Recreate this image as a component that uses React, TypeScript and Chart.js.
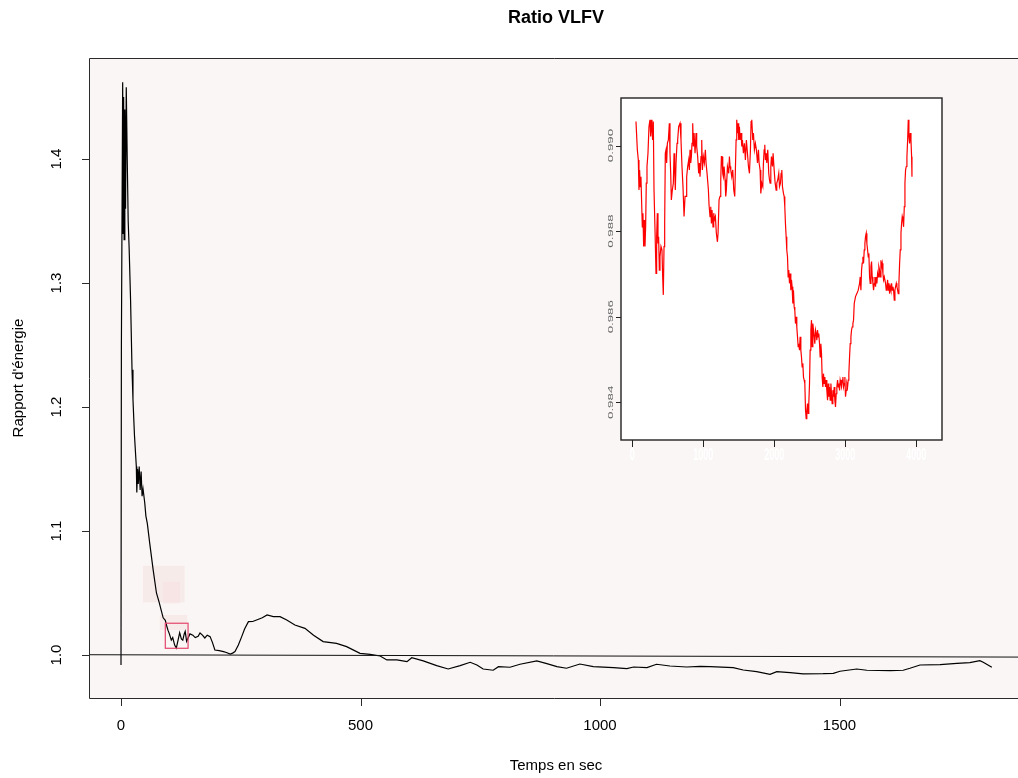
import React, { useEffect, useRef } from 'react';
import { Chart, registerables } from 'chart.js';

Chart.register(...registerables);

const FONT = '"Liberation Sans", Arial, Helvetica, sans-serif';

// ---- main series: time (s) and energy ratio ----
const timeSec = [
  0, 0.8, 3.5, 4.5, 5.5, 6.5, 8, 9.5, 11, 13,
  15, 17, 20, 23, 25, 28, 32, 33, 34.5, 36,
  38, 40, 42, 44, 46, 49.5, 52, 55, 60, 67,
  74, 80, 84, 88, 92.5, 95, 98, 101, 105, 108,
  112, 115.5, 118, 122.5, 126, 129, 132, 134, 137, 140,
  144, 150, 155, 161, 165, 170, 175, 180, 186, 191,
  196, 205, 214, 220, 228, 233, 238, 245, 252, 258,
  266, 275, 283, 295, 305, 318, 332, 346, 363, 384,
  402, 422, 450, 471, 499, 520, 541, 555, 576, 597,
  607, 631, 659, 683, 708, 729, 743, 756, 777, 788,
  812, 833, 868, 889, 910, 930, 958, 986, 1028, 1056,
  1070, 1098, 1118, 1146, 1181, 1209, 1230, 1278, 1299, 1327,
  1355, 1369, 1397, 1424, 1466, 1487, 1501, 1536, 1557, 1606,
  1633, 1647, 1668, 1710, 1745, 1772, 1793, 1800, 1818,
];
const ratio = [
  0.992, 1.248, 1.462, 1.34, 1.45, 1.335, 1.44, 1.36, 1.458, 1.40,
  1.35, 1.328, 1.286, 1.230, 1.206, 1.178, 1.152, 1.131, 1.150, 1.138,
  1.152, 1.133, 1.148, 1.128, 1.134, 1.123, 1.112, 1.106, 1.090, 1.069,
  1.050, 1.042, 1.036, 1.030, 1.028, 1.024, 1.020, 1.017, 1.012, 1.014,
  1.008, 1.0056, 1.010, 1.018, 1.013, 1.012, 1.017, 1.019, 1.011, 1.0137,
  1.017, 1.016, 1.014, 1.015, 1.0177, 1.016, 1.0137, 1.016, 1.0148, 1.010,
  1.004, 1.0035, 1.0027, 1.002, 1.0008, 1.0015, 1.0027, 1.008, 1.0148, 1.021,
  1.0269, 1.027, 1.0282, 1.030, 1.0323, 1.031, 1.0309, 1.0282, 1.0242, 1.0215,
  1.016, 1.0108, 1.0094, 1.0067, 1.0013, 1.0005, 0.9992, 0.9960, 0.9960, 0.9946,
  0.9978, 0.9952, 0.9914, 0.9887, 0.9914, 0.9941, 0.9919, 0.9887, 0.9877, 0.9906,
  0.9901, 0.9925, 0.9952, 0.9930, 0.9906, 0.9893, 0.9927, 0.9906, 0.9898, 0.9890,
  0.9903, 0.9898, 0.9925, 0.9911, 0.9903, 0.9908, 0.9906, 0.9898, 0.9879, 0.9865,
  0.9844, 0.9865, 0.9857, 0.9847, 0.9849, 0.9852, 0.9869, 0.9887, 0.9877, 0.9873,
  0.9877, 0.9893, 0.9919, 0.9922, 0.9933, 0.9938, 0.9954, 0.9941, 0.9901,
];

// reference line near 1
const refLineX = [-66.8, 1872.6];
const refLineY = [1.0002, 0.9983];

const xTicks = [0, 500, 1000, 1500];
const xTickLabels = ['0', '500', '1000', '1500'];
const yTicks = [1.0, 1.1, 1.2, 1.3, 1.4];
const yTickLabels = ['1.0', '1.1', '1.2', '1.3', '1.4'];

// highlighted regions [x0, x1, y0, y1]
const shadeBoxes = [
  [45.9, 133, 1.0425, 1.072],
  [87.7, 122.5, 1.0415, 1.059],
  [81, 138, 1.0202, 1.0323],
];
const focusBox = [92.5, 140, 1.0054, 1.0256];

// ---- inset series ----
const insetX = [
  52, 71, 85, 94, 103, 113, 122, 132, 141, 150,
  160, 169, 179, 188, 197, 207, 221, 235, 249, 259,
  268, 277, 287, 296, 306, 320, 334, 343, 353, 362,
  371, 381, 390, 404, 418, 428, 437, 447, 456, 465,
  475, 484, 494, 508, 522, 531, 541, 550, 564, 578,
  588, 597, 606, 616, 630, 639, 653, 672, 686, 700,
  714, 729, 743, 757, 766, 780, 794, 804, 813, 823,
  832, 841, 851, 860, 870, 884, 898, 907, 921, 935,
  945, 954, 968, 978, 987, 1001, 1015, 1029, 1039, 1053,
  1072, 1081, 1095, 1105, 1114, 1123, 1137, 1147, 1156, 1170,
  1184, 1199, 1208, 1222, 1236, 1246, 1255, 1264, 1274, 1283,
  1293, 1307, 1316, 1325, 1340, 1349, 1358, 1368, 1377, 1387,
  1401, 1415, 1429, 1443, 1452, 1462, 1471, 1481, 1490, 1499,
  1509, 1518, 1532, 1542, 1551, 1565, 1579, 1593, 1607, 1622,
  1636, 1650, 1664, 1673, 1683, 1697, 1706, 1720, 1734, 1748,
  1763, 1777, 1786, 1800, 1810, 1824, 1838, 1847, 1857, 1866,
  1875, 1885, 1894, 1908, 1922, 1932, 1941, 1951, 1960, 1974,
  1983, 1998, 2012, 2026, 2035, 2049, 2063, 2073, 2087, 2096,
  2106, 2115, 2129, 2139, 2148, 2157, 2167, 2176, 2186, 2195,
  2204, 2214, 2223, 2233, 2242, 2251, 2261, 2270, 2280, 2289,
  2298, 2308, 2317, 2327, 2336, 2345, 2355, 2364, 2374, 2383,
  2392, 2402, 2411, 2421, 2430, 2440, 2449, 2458, 2468, 2477,
  2486, 2496, 2505, 2515, 2524, 2533, 2543, 2552, 2562, 2571,
  2580, 2590, 2599, 2609, 2618, 2627, 2637, 2646, 2656, 2665,
  2674, 2684, 2693, 2703, 2712, 2721, 2731, 2740, 2750, 2759,
  2768, 2778, 2787, 2797, 2806, 2815, 2825, 2834, 2844, 2853,
  2862, 2872, 2881, 2891, 2900, 2909, 2919, 2928, 2938, 2947,
  2956, 2966, 2975, 2985, 2994, 3003, 3013, 3022, 3032, 3041,
  3050, 3060, 3069, 3079, 3088, 3097, 3107, 3116, 3126, 3144,
  3163, 3182, 3201, 3210, 3220, 3229, 3238, 3248, 3257, 3267,
  3276, 3285, 3295, 3304, 3314, 3323, 3332, 3342, 3351, 3361,
  3370, 3379, 3389, 3398, 3408, 3417, 3426, 3436, 3445, 3455,
  3464, 3473, 3483, 3492, 3502, 3511, 3520, 3530, 3539, 3549,
  3567, 3577, 3586, 3596, 3605, 3614, 3624, 3633, 3643, 3652,
  3661, 3671, 3680, 3690, 3699, 3708, 3718, 3727, 3737, 3746,
  3755, 3765, 3774, 3784, 3793, 3802, 3812, 3821, 3831, 3840,
  3849, 3859, 3868, 3878, 3887, 3896, 3906, 3915, 3925, 3934,
  3939,
];
const insetY = [
  0.99056, 0.98990, 0.98966, 0.98896, 0.98943, 0.98904, 0.98927, 0.98865, 0.98810, 0.98842,
  0.98764, 0.98826, 0.98764, 0.98810, 0.98912, 0.98951, 0.98982, 0.99044, 0.99060, 0.99021,
  0.99060, 0.99037, 0.99013, 0.99056, 0.98896, 0.98803, 0.98701, 0.98787, 0.98842, 0.98771,
  0.98787, 0.98709, 0.98740, 0.98764, 0.98756, 0.98693, 0.98651, 0.98764, 0.98818, 0.98982,
  0.98990, 0.98959, 0.99005, 0.99013, 0.99052, 0.98982, 0.98935, 0.98873, 0.98896, 0.98912,
  0.98982, 0.98943, 0.98896, 0.98959, 0.99005, 0.99013, 0.99044, 0.99052, 0.99013, 0.98951,
  0.98904, 0.98834, 0.98881, 0.98881, 0.98927, 0.98951, 0.98966, 0.98943, 0.98990, 0.98959,
  0.98974, 0.99005, 0.99052, 0.98998, 0.99029, 0.98982, 0.99029, 0.98998, 0.98974, 0.98935,
  0.98959, 0.98927, 0.98974, 0.99013, 0.98943, 0.98974, 0.98959, 0.98990, 0.98959, 0.98935,
  0.98896, 0.98861, 0.98834, 0.98857, 0.98818, 0.98849, 0.98810, 0.98842, 0.98826, 0.98834,
  0.98795, 0.98775, 0.98795, 0.98873, 0.98881, 0.98920, 0.98974, 0.98974, 0.98935, 0.98927,
  0.98951, 0.98920, 0.98881, 0.98896, 0.98951, 0.98943, 0.98935, 0.98974, 0.98951, 0.98943,
  0.98927, 0.98943, 0.98896, 0.98881, 0.98943, 0.99013, 0.99060, 0.99029, 0.99052, 0.99013,
  0.99044, 0.99013, 0.99029, 0.98998, 0.99013, 0.98982, 0.99005, 0.98966, 0.99013, 0.98982,
  0.98951, 0.98935, 0.98990, 0.99056, 0.99060, 0.99013, 0.99029, 0.98990, 0.99005, 0.98990,
  0.98959, 0.98990, 0.98959, 0.98943, 0.98888, 0.98912, 0.98904, 0.98959, 0.98990, 0.99002,
  0.98966, 0.98982, 0.98959, 0.98990, 0.98935, 0.98920, 0.98912, 0.98951, 0.98974, 0.98951,
  0.98982, 0.98943, 0.98912, 0.98896, 0.98912, 0.98920, 0.98935, 0.98904, 0.98912, 0.98935,
  0.98943, 0.98904, 0.98888, 0.98881, 0.98857, 0.98818, 0.98787, 0.98756, 0.98740, 0.98693,
  0.98709, 0.98678, 0.98701, 0.98662, 0.98686, 0.98670, 0.98631, 0.98662, 0.98623, 0.98615,
  0.98584, 0.98600, 0.98576, 0.98553, 0.98530, 0.98537, 0.98522, 0.98553, 0.98522, 0.98506,
  0.98483, 0.98491, 0.98459, 0.98452, 0.98444, 0.98381, 0.98362, 0.98381, 0.98397, 0.98374,
  0.98397, 0.98444, 0.98522, 0.98569, 0.98592, 0.98530, 0.98584, 0.98569, 0.98553, 0.98537,
  0.98569, 0.98561, 0.98545, 0.98569, 0.98553, 0.98561, 0.98537, 0.98506, 0.98537, 0.98514,
  0.98459, 0.98436, 0.98467, 0.98444, 0.98459, 0.98436, 0.98452, 0.98428, 0.98405, 0.98444,
  0.98413, 0.98436, 0.98405, 0.98444, 0.98420, 0.98397, 0.98428, 0.98413, 0.98436, 0.98405,
  0.98389, 0.98420, 0.98436, 0.98452, 0.98436, 0.98444, 0.98428, 0.98452, 0.98444, 0.98436,
  0.98452, 0.98459, 0.98436, 0.98444, 0.98459, 0.98413, 0.98428, 0.98444, 0.98436, 0.98452,
  0.98467, 0.98506, 0.98537, 0.98553, 0.98569, 0.98576, 0.98584, 0.98592, 0.98631, 0.98647,
  0.98654, 0.98662, 0.98678, 0.98693, 0.98662, 0.98709, 0.98725, 0.98740, 0.98725, 0.98756,
  0.98771, 0.98787, 0.98795, 0.98771, 0.98756, 0.98740, 0.98748, 0.98693, 0.98678, 0.98717,
  0.98729, 0.98693, 0.98678, 0.98662, 0.98678, 0.98693, 0.98670, 0.98693, 0.98678, 0.98701,
  0.98693, 0.98717, 0.98709, 0.98693, 0.98732, 0.98717, 0.98725, 0.98701, 0.98686, 0.98693,
  0.98678, 0.98662, 0.98670, 0.98686, 0.98662, 0.98678, 0.98654, 0.98670, 0.98662, 0.98678,
  0.98662, 0.98670, 0.98662, 0.98639, 0.98662, 0.98670, 0.98678, 0.98670, 0.98662, 0.98654,
  0.98678, 0.98725, 0.98756, 0.98795, 0.98818, 0.98834, 0.98826, 0.98810, 0.98857, 0.98912,
  0.98943, 0.98951, 0.98974, 0.99013, 0.99060, 0.99021, 0.99005, 0.99029, 0.99013, 0.98974,
  0.98927,
];
const insetXTicks = [0, 1000, 2000, 3000, 4000];
const insetYTicks = [0.984, 0.986, 0.988, 0.99];
const insetYTickLabels = ['0.984', '0.986', '0.988', '0.990'];

const mainDecor = {
  id: 'mainDecor',
  beforeDraw(chart: any) {
    const { ctx, chartArea: a } = chart;
    const xs = chart.scales.x;
    const ys = chart.scales.y;
    ctx.save();
    ctx.fillStyle = '#ffffff';
    ctx.fillRect(0, 0, chart.width, chart.height);
    ctx.fillStyle = '#FAF6F5';
    ctx.fillRect(a.left, a.top, a.right - a.left, a.bottom - a.top);
    ctx.fillStyle = 'rgba(244, 222, 222, 0.45)';
    shadeBoxes.forEach((b) => {
      const x0 = xs.getPixelForValue(b[0]);
      const x1 = xs.getPixelForValue(b[1]);
      const y0 = ys.getPixelForValue(b[2]);
      const y1 = ys.getPixelForValue(b[3]);
      ctx.fillRect(x0, y1, x1 - x0, y0 - y1);
    });
    ctx.restore();
  },
  afterDraw(chart: any) {
    const { ctx, chartArea: a } = chart;
    const xs = chart.scales.x;
    const ys = chart.scales.y;
    ctx.save();
    // focus box
    ctx.strokeStyle = '#E3456C';
    ctx.lineWidth = 1.2;
    const fx0 = xs.getPixelForValue(focusBox[0]);
    const fx1 = xs.getPixelForValue(focusBox[1]);
    const fy0 = ys.getPixelForValue(focusBox[2]);
    const fy1 = ys.getPixelForValue(focusBox[3]);
    ctx.strokeRect(fx0, fy1, fx1 - fx0, fy0 - fy1);

    // frame (left, top, bottom)
    ctx.strokeStyle = '#2a2a2a';
    ctx.lineWidth = 1;
    ctx.beginPath();
    ctx.moveTo(chart.width + 5, a.top + 0.5);
    ctx.lineTo(a.left + 0.5, a.top + 0.5);
    ctx.lineTo(a.left + 0.5, a.bottom + 0.5);
    ctx.lineTo(chart.width + 5, a.bottom + 0.5);
    ctx.stroke();

    // ticks
    ctx.beginPath();
    xTicks.forEach((v) => {
      const px = Math.round(xs.getPixelForValue(v)) + 0.5;
      ctx.moveTo(px, a.bottom);
      ctx.lineTo(px, a.bottom + 8);
    });
    yTicks.forEach((v) => {
      const py = Math.round(ys.getPixelForValue(v)) + 0.5;
      ctx.moveTo(a.left, py);
      ctx.lineTo(a.left - 7, py);
    });
    ctx.stroke();

    ctx.fillStyle = '#000';
    ctx.font = `15px ${FONT}`;
    ctx.textAlign = 'center';
    ctx.textBaseline = 'middle';
    xTicks.forEach((v, i) => {
      ctx.fillText(xTickLabels[i], xs.getPixelForValue(v), 726);
    });
    yTicks.forEach((v, i) => {
      ctx.save();
      ctx.translate(57, ys.getPixelForValue(v));
      ctx.rotate(-Math.PI / 2);
      ctx.fillText(yTickLabels[i], 0, 0);
      ctx.restore();
    });
    // axis titles
    ctx.fillText('Temps en sec', 556, 766);
    ctx.save();
    ctx.translate(19, 378);
    ctx.rotate(-Math.PI / 2);
    ctx.fillText("Rapport d'énergie", 0, 0);
    ctx.restore();
    // main title
    ctx.font = `bold 18px ${FONT}`;
    ctx.fillText('Ratio VLFV', 556, 18);
    ctx.restore();
  },
};

const insetDecor = {
  id: 'insetDecor',
  beforeDraw(chart: any) {
    const { ctx, chartArea: a } = chart;
    ctx.save();
    ctx.clearRect(0, 0, chart.width, chart.height);
    ctx.fillStyle = '#ffffff';
    ctx.fillRect(a.left, a.top, a.right - a.left, a.bottom - a.top);
    ctx.restore();
  },
  afterDraw(chart: any) {
    const { ctx, chartArea: a } = chart;
    const xs = chart.scales.x;
    const ys = chart.scales.y;
    ctx.save();
    ctx.strokeStyle = '#222';
    ctx.lineWidth = 1.4;
    ctx.strokeRect(a.left, a.top, a.right - a.left, a.bottom - a.top);
    ctx.lineWidth = 1;
    ctx.beginPath();
    insetXTicks.forEach((v) => {
      const px = Math.round(xs.getPixelForValue(v)) + 0.5;
      ctx.moveTo(px, a.bottom);
      ctx.lineTo(px, a.bottom + 7);
    });
    insetYTicks.forEach((v) => {
      const py = Math.round(ys.getPixelForValue(v)) + 0.5;
      ctx.moveTo(a.left, py);
      ctx.lineTo(a.left - 5, py);
    });
    ctx.stroke();

    ctx.textAlign = 'center';
    ctx.textBaseline = 'middle';
    ctx.fillStyle = '#666';
    ctx.font = `7px ${FONT}`;
    insetYTicks.forEach((v, i) => {
      ctx.save();
      ctx.translate(a.left - 9.5, ys.getPixelForValue(v));
      ctx.rotate(-Math.PI / 2);
      ctx.scale(1.9, 1);
      ctx.fillText(insetYTickLabels[i], 0, 0);
      ctx.restore();
    });
    ctx.fillStyle = '#ffffff';
    ctx.font = `bold 9px ${FONT}`;
    insetXTicks.forEach((v) => {
      ctx.save();
      ctx.translate(xs.getPixelForValue(v), a.bottom + 16);
      ctx.scale(1, 1.8);
      ctx.fillText(String(v), 0, 0);
      ctx.restore();
    });
    ctx.restore();
  },
};

export default function App() {
  const mainRef = useRef<HTMLCanvasElement | null>(null);
  const insetRef = useRef<HTMLCanvasElement | null>(null);

  useEffect(() => {
    if (!mainRef.current || !insetRef.current) return;
    const main = new Chart(mainRef.current, {
      type: 'line',
      data: {
        datasets: [
          {
            data: refLineX.map((x, i) => ({ x, y: refLineY[i] })),
            borderColor: '#111',
            borderWidth: 1,
            pointRadius: 0,
            tension: 0,
          },
          {
            data: timeSec.map((x, i) => ({ x, y: ratio[i] })),
            borderColor: '#000',
            borderWidth: 1.2,
            pointRadius: 0,
            tension: 0,
          },
        ],
      },
      options: {
        animation: false,
        responsive: false,
        devicePixelRatio: 1,
        layout: { padding: { left: 89, top: 58, right: 0, bottom: 80 } },
        plugins: { legend: { display: false }, tooltip: { enabled: false } },
        scales: {
          x: { type: 'linear', min: -66.8, max: 1872.6, display: false },
          y: { type: 'linear', min: 0.9653, max: 1.4815, display: false },
        },
      },
      plugins: [mainDecor],
    } as any);

    const inset = new Chart(insetRef.current, {
      type: 'line',
      data: {
        datasets: [
          {
            data: insetX.map((x, i) => ({ x, y: insetY[i] })),
            borderColor: '#FF0000',
            borderWidth: 1.2,
            pointRadius: 0,
            tension: 0,
          },
        ],
      },
      options: {
        animation: false,
        responsive: false,
        devicePixelRatio: 1,
        layout: { padding: { left: 21, top: 8, right: 18, bottom: 30 } },
        plugins: { legend: { display: false }, tooltip: { enabled: false } },
        scales: {
          x: { type: 'linear', min: -159, max: 4362, display: false },
          y: { type: 'linear', min: 0.98312, max: 0.99111, display: false },
        },
      },
      plugins: [insetDecor],
    } as any);

    return () => {
      main.destroy();
      inset.destroy();
    };
  }, []);

  return (
    <div
      style={{
        position: 'fixed',
        left: 0,
        top: 0,
        width: 1018,
        height: 778,
        overflow: 'hidden',
        background: '#fff',
      }}
    >
      <canvas
        ref={mainRef}
        width={1018}
        height={778}
        style={{ position: 'absolute', left: 0, top: 0, width: 1018, height: 778 }}
      />
      <canvas
        ref={insetRef}
        width={360}
        height={380}
        style={{ position: 'absolute', left: 600, top: 90, width: 360, height: 380 }}
      />
    </div>
  );
}
